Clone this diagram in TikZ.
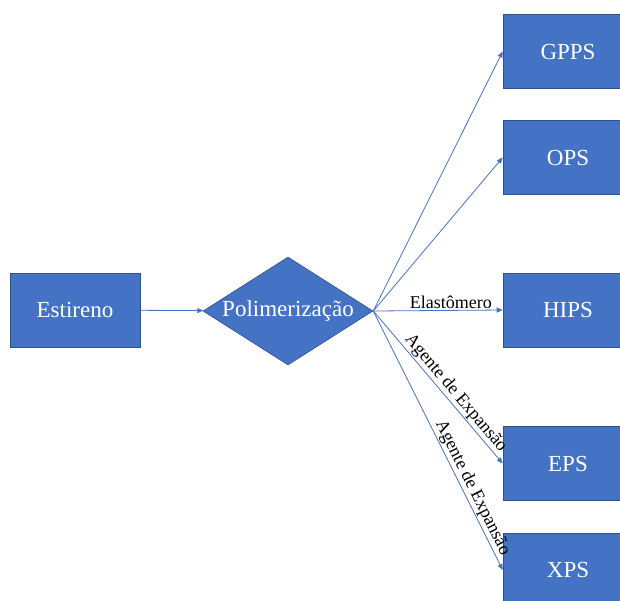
\documentclass[tikz,border=0pt]{standalone}
\usepackage{fontspec}
\setmainfont{Liberation Serif}
\usetikzlibrary{shapes.geometric,arrows.meta}

\definecolor{azul}{HTML}{4472C4}
\definecolor{azulborda}{HTML}{2F528F}

\tikzset{
  caixa/.style={rectangle, fill=azul, draw=azulborda, line width=0.6pt, text=white,
    minimum width=130pt, minimum height=74pt, font=\fontsize{23}{28}\selectfont},
  losango/.style={diamond, fill=azul, draw=azulborda, line width=0.6pt, text=white,
    minimum width=170pt, minimum height=108pt, inner sep=0pt, font=\fontsize{23}{28}\selectfont},
  seta/.style={draw=azul, line width=0.8pt, -{Triangle[length=6pt,width=5pt]}},
  rotulo/.style={font=\fontsize{18}{22}\selectfont, text=black, inner sep=1pt}
}

\begin{document}
\begin{tikzpicture}[x=1pt,y=-1pt]
\useasboundingbox (0,0) rectangle (620,600);

\node[caixa] (estireno) at (75,310) {Estireno};
\node[losango] (polim) at (288,311) {\makebox[0pt]{Polimerização}};

%produtos
\node[caixa] (gpps) at (568,51.5) {GPPS};
\node[caixa] (ops) at (568,157.5) {OPS};
\node[caixa] (hips) at (568,310) {HIPS};
\node[caixa] (eps) at (568,463.5) {EPS};
\node[caixa] (xps) at (568,570) {XPS};

\draw[seta] (estireno) -- (polim);

\foreach \p in {gpps,ops}{
	\draw[seta] (polim.east) -- (\p.west);}

\draw[seta] (polim.east) -- node[rotulo,above,pos=0.6] {Elastômero} (hips.west);
\draw[seta] (polim.east) -- node[rotulo,sloped,above,pos=0.58] {Agente de Expansão} (eps.west);
\draw[seta] (polim.east) -- node[rotulo,sloped,above,pos=0.7] {Agente de Expansão} (xps.west);

\end{tikzpicture}
\end{document}
